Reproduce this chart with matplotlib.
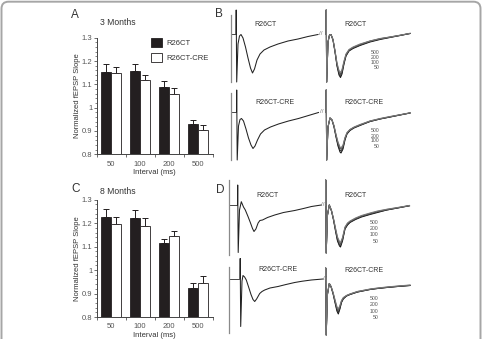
import numpy as np
import matplotlib
matplotlib.use("Agg")
from matplotlib import pyplot as plt
from matplotlib.patches import FancyBboxPatch
from matplotlib.transforms import IdentityTransform
from matplotlib.ticker import MultipleLocator

plt.rcParams['font.family'] = ['Liberation Sans', 'DejaVu Sans']

W, H = 482, 339

# ---- bar data (normalized fEPSP slope, paired-pulse) ----
intervals = ['50', '100', '200', '500']
groups = ['R26CT', 'R26CT-CRE']

ct_3m = [1.153, 1.157, 1.090, 0.930]
ct_3m_err = [0.033, 0.029, 0.023, 0.016]
cre_3m = [1.147, 1.117, 1.057, 0.906]
cre_3m_err = [0.026, 0.022, 0.026, 0.018]

ct_8m = [1.228, 1.222, 1.114, 0.925]
ct_8m_err = [0.031, 0.033, 0.018, 0.019]
cre_8m = [1.195, 1.190, 1.144, 0.947]
cre_8m_err = [0.030, 0.030, 0.021, 0.027]

# ---- example traces (time ms, amplitude mV) ----
# B, first pulse
t_b_left = [0, 0.1, 0.35, 1, 1.75, 2.5, 3.5, 4.75, 6, 7.25, 8.25, 9.25, 10.5, 12, 14, 17, 21, 26, 31, 36, 41]
v_b_ct_first = [0, 0.48, -0.96, -0.2, -0.04, -0.01, -0.08, -0.26, -0.48, -0.68, -0.78, -0.7, -0.52, -0.4, -0.32, -0.26, -0.2, -0.14, -0.1, -0.05, -0.01]
v_b_cre_first = [0, 0.44, -0.96, -0.28, -0.15, -0.13, -0.18, -0.34, -0.52, -0.66, -0.73, -0.68, -0.56, -0.44, -0.36, -0.3, -0.24, -0.18, -0.13, -0.07, -0.01]

# B, second pulse, R26CT (50, 100, 200, 500 ms)
t_b_ct_second = [0, 0.1, 0.35, 1, 1.75, 2.5, 3.5, 4.5, 5.5, 6.5, 7.25, 8, 9, 10, 11.5, 13.5, 17, 22, 27, 32, 37, 42]
v_b_ct_50 = [0, 0.48, -0.96, -0.16, -0.02, -0.01, -0.12, -0.36, -0.64, -0.82, -0.87, -0.8, -0.6, -0.44, -0.34, -0.29, -0.23, -0.16, -0.11, -0.07, -0.03, 0.01]
v_b_ct_100 = [0, 0.48, -0.96, -0.16, -0.02, -0.01, -0.12, -0.35, -0.62, -0.79, -0.83, -0.77, -0.58, -0.43, -0.33, -0.28, -0.22, -0.15, -0.1, -0.065, -0.03, 0.01]
v_b_ct_200 = [0, 0.48, -0.96, -0.16, -0.02, -0.01, -0.11, -0.34, -0.6, -0.76, -0.8, -0.74, -0.56, -0.41, -0.32, -0.27, -0.21, -0.14, -0.095, -0.06, -0.025, 0.01]
v_b_ct_500 = [0, 0.48, -0.96, -0.16, -0.02, -0.01, -0.11, -0.33, -0.58, -0.73, -0.77, -0.71, -0.54, -0.4, -0.31, -0.26, -0.2, -0.14, -0.09, -0.06, -0.025, 0.015]

# B, second pulse, R26CT-CRE
t_b_cre_second = [0, 0.1, 0.35, 1, 2, 3, 4, 5, 6, 7, 7.5, 8.5, 9.5, 10.5, 12, 14, 17, 22, 27, 32, 37, 42]
v_b_cre_50 = [0, 0.44, -0.96, -0.3, -0.12, -0.16, -0.3, -0.5, -0.68, -0.8, -0.82, -0.74, -0.56, -0.44, -0.37, -0.32, -0.27, -0.19, -0.14, -0.1, -0.06, -0.02]
v_b_cre_100 = [0, 0.44, -0.96, -0.3, -0.12, -0.16, -0.29, -0.48, -0.65, -0.76, -0.78, -0.71, -0.54, -0.43, -0.36, -0.31, -0.26, -0.19, -0.14, -0.1, -0.06, -0.02]
v_b_cre_200 = [0, 0.44, -0.96, -0.3, -0.12, -0.16, -0.28, -0.46, -0.62, -0.72, -0.74, -0.68, -0.52, -0.42, -0.35, -0.31, -0.26, -0.18, -0.135, -0.095, -0.055, -0.02]
v_b_cre_500 = [0, 0.44, -0.96, -0.3, -0.12, -0.16, -0.27, -0.45, -0.6, -0.7, -0.72, -0.66, -0.51, -0.41, -0.35, -0.3, -0.25, -0.18, -0.13, -0.09, -0.055, -0.015]

# D, first pulse
t_d_ct_first = [0, 0.1, 0.35, 1, 1.9, 3, 3.9, 5.25, 6.5, 7.5, 8.25, 9.2, 10.3, 11.2, 12.5, 15, 18.6, 23, 28.6, 33, 37, 41.9]
v_d_ct_first = [0, 0.4, -0.95, -0.1, 0.066, -0.04, -0.1, -0.23, -0.36, -0.47, -0.53, -0.48, -0.36, -0.31, -0.3, -0.25, -0.2, -0.15, -0.11, -0.07, -0.03, 0]
t_d_cre_first = [0, 0.1, 0.35, 1, 1.5, 2.3, 3.15, 4.3, 5.5, 6.5, 7.35, 8.3, 9.85, 11, 12.35, 15, 19, 23, 27.35, 31, 35.65, 41.5]
v_d_cre_first = [0, 0.4, -0.96, -0.05, 0.06, 0.03, -0.03, -0.17, -0.32, -0.42, -0.46, -0.41, -0.3, -0.26, -0.23, -0.19, -0.16, -0.12, -0.08, -0.055, -0.03, -0.01]

# D, second pulse, R26CT
t_d_ct_second = [0, 0.1, 0.35, 1, 1.9, 3, 4, 5, 6, 7, 7.5, 8.5, 9.75, 11, 12.25, 15, 18, 22.25, 26, 30.6, 36, 42]
v_d_ct_50 = [0, 0.5, -0.96, -0.2, 0, -0.12, -0.3, -0.52, -0.72, -0.82, -0.84, -0.72, -0.48, -0.4, -0.35, -0.29, -0.24, -0.19, -0.15, -0.1, -0.06, -0.015]
v_d_ct_100 = [0, 0.5, -0.96, -0.2, 0, -0.12, -0.29, -0.5, -0.7, -0.8, -0.81, -0.7, -0.47, -0.39, -0.34, -0.28, -0.23, -0.18, -0.14, -0.1, -0.06, -0.015]
v_d_ct_200 = [0, 0.5, -0.96, -0.2, 0, -0.11, -0.28, -0.48, -0.66, -0.76, -0.78, -0.67, -0.45, -0.37, -0.33, -0.27, -0.22, -0.17, -0.13, -0.09, -0.055, -0.01]
v_d_ct_500 = [0, 0.5, -0.96, -0.2, 0, -0.11, -0.27, -0.46, -0.64, -0.73, -0.75, -0.65, -0.44, -0.36, -0.32, -0.26, -0.21, -0.16, -0.12, -0.085, -0.05, -0.01]

# D, second pulse, R26CT-CRE
t_d_cre_second = [0, 0.1, 0.35, 1, 1.9, 2.8, 3.8, 4.8, 5.7, 6.4, 7.2, 8, 8.9, 10.5, 12.25, 16, 22.25, 26, 30.6, 36, 42.25]
v_d_cre_50 = [0, 0.22, -1.12, -0.3, -0.09, -0.16, -0.3, -0.48, -0.64, -0.7, -0.6, -0.47, -0.4, -0.34, -0.31, -0.26, -0.21, -0.19, -0.17, -0.15, -0.13]
v_d_cre_100 = [0, 0.22, -1.12, -0.3, -0.09, -0.16, -0.29, -0.46, -0.61, -0.67, -0.58, -0.46, -0.39, -0.34, -0.31, -0.26, -0.21, -0.19, -0.17, -0.15, -0.13]
v_d_cre_200 = [0, 0.22, -1.12, -0.3, -0.09, -0.15, -0.28, -0.44, -0.58, -0.63, -0.55, -0.44, -0.38, -0.33, -0.3, -0.25, -0.205, -0.185, -0.165, -0.145, -0.125]
v_d_cre_500 = [0, 0.22, -1.12, -0.3, -0.09, -0.15, -0.27, -0.42, -0.55, -0.6, -0.53, -0.43, -0.37, -0.33, -0.3, -0.25, -0.2, -0.18, -0.16, -0.14, -0.12]

DARK = '#231f20'
TXT = '#333333'
TICK = '#555555'

fig = plt.figure(figsize=(W / 100, H / 100), dpi=100)


def box(x0, y0, x1, y1):
    # axes placed by pixel box (top-left origin)
    return fig.add_axes([x0 / W, 1 - y1 / H, (x1 - x0) / W, (y1 - y0) / H])


def bar_panel(top, bottom, ct, ct_err, cre, cre_err, legend=False):
    ax = box(96.5, top, 212.5, bottom)
    x = np.arange(len(intervals))
    w = 0.345
    b1 = ax.bar(x - w / 2, ct, w, color=DARK, edgecolor=DARK, lw=0.6, label=groups[0], zorder=2)
    b2 = ax.bar(x + w / 2, cre, w, color='white', edgecolor=DARK, lw=0.6, label=groups[1], zorder=2)
    ax.errorbar(x - w / 2, ct, yerr=[np.zeros(4), ct_err], fmt='none', ecolor=DARK,
                elinewidth=0.7, capsize=2.2, capthick=0.7, zorder=1)
    ax.errorbar(x + w / 2, cre, yerr=[np.zeros(4), cre_err], fmt='none', ecolor=DARK,
                elinewidth=0.7, capsize=2.2, capthick=0.7, zorder=1)
    ax.set(xlim=(-0.5, 3.5), ylim=(0.8, 1.3))
    for s in ['top', 'right']:
        ax.spines[s].set_visible(False)
    for s in ['left', 'bottom']:
        ax.spines[s].set_color('#444444')
        ax.spines[s].set_linewidth(0.7)
    ax.set_yticks([0.8, 0.9, 1.0, 1.1, 1.2, 1.3])
    ax.set_yticklabels(['0.8', '0.9', '1', '1.1', '1.2', '1.3'])
    ax.yaxis.set_minor_locator(MultipleLocator(0.02))
    ax.set_xticks(x)
    ax.set_xticklabels(intervals)
    ax.set_xticks(np.arange(-0.5, 4, 1), minor=True)
    ax.tick_params(axis='y', which='major', length=2.2, width=0.6, pad=0.8,
                   labelsize=5.5, colors=TICK)
    ax.tick_params(axis='y', which='minor', length=1.1, width=0.5, colors=TICK)
    ax.tick_params(axis='x', which='major', length=0, pad=4.5, labelsize=5.5, colors=TICK)
    ax.tick_params(axis='x', which='minor', length=2.5, width=0.6, colors=TICK)
    ax.set_ylabel('Normalized fEPSP Slope', fontsize=5.5, color=TXT)
    ax.yaxis.set_label_coords(-0.135, 0.5)
    ax.set_xlabel('Interval (ms)', fontsize=5.5, color=TXT)
    ax.xaxis.set_label_coords(0.5, -0.13)
    if legend:
        ax.legend(handles=[b1, b2], loc='upper left', bbox_to_anchor=(0.467, 1.0),
                  frameon=False, fontsize=5.5, handlelength=1.45, handleheight=1.45,
                  handletextpad=0.55, labelspacing=0.75, borderpad=0, borderaxespad=0,
                  labelcolor=TXT)
    return ax


bar_panel(37.7, 154.3, ct_3m, ct_3m_err, cre_3m, cre_3m_err, legend=True)
bar_panel(199.7, 317.0, ct_8m, ct_8m_err, cre_8m, cre_8m_err)

fig.text(100 / W, 1 - 22.7 / H, '3 Months', fontsize=6.2, color=TXT, ha='left', va='center')
fig.text(100 / W, 1 - 192 / H, '8 Months', fontsize=6.2, color=TXT, ha='left', va='center')
for lab, px, py in [('A', 75, 15), ('B', 219, 14), ('C', 76, 189), ('D', 220, 190)]:
    fig.text(px / W, 1 - py / H, lab, fontsize=8.5, color=TXT, ha='center', va='center')


# ---- trace panels ----
def trace_axes(xa, yb):
    ax = box(xa - 14, yb - 30, xa + 88, yb + 58)
    ax.set(xlim=(-7, 44), ylim=(-1.16, 0.6))
    ax.axis('off')
    ax.patch.set_alpha(0)
    return ax


def first_pulse(xa, yb, t, v, name, bar_t, bar_v):
    ax = trace_axes(xa, yb)
    ax.plot(t, v, color='#222222', lw=0.75)
    # scale bar and baseline tick
    ax.plot([bar_t, bar_t], bar_v, color='#8a8a8a', lw=0.9)
    ax.plot([bar_t + 0.6, -0.4], [0, 0], color='#2a2a2a', lw=0.6)
    ax.text(42.6, 0.01, '//', fontsize=4.5, color='#777777', ha='center', va='center')
    ax.text(9.3, 0.18, name, fontsize=5, color=TXT, ha='left', va='center')


def second_pulse(xa, yb, t, traces, name, lab_v):
    ax = trace_axes(xa, yb)
    shades = ['#111111', '#333333', '#555555', '#777777']
    for v, c in zip(traces, shades):
        ax.plot(t, v, color=c, lw=0.75)
    ax.text(9.3, 0.18, name, fontsize=5, color=TXT, ha='left', va='center')
    for lab, lv in zip(intervals[::-1], lab_v):
        ax.text(26.6, lv, lab, fontsize=3.7, color='#555555', ha='right', va='center')


first_pulse(236, 34, t_b_left, v_b_ct_first, 'R26CT', -2.6, [0.38, -0.96])
second_pulse(326, 34, t_b_ct_second, [v_b_ct_50, v_b_ct_100, v_b_ct_200, v_b_ct_500],
             'R26CT', [-0.37, -0.47, -0.57, -0.67])
first_pulse(236.5, 112, t_b_left, v_b_cre_first, 'R26CT-CRE', -2.9, [0.38, -0.96])
second_pulse(326, 112, t_b_cre_second, [v_b_cre_50, v_b_cre_100, v_b_cre_200, v_b_cre_500],
             'R26CT-CRE', [-0.38, -0.48, -0.58, -0.68])

first_pulse(237.5, 205, t_d_ct_first, v_d_ct_first, 'R26CT', -4.4, [0.5, -1.0])
second_pulse(325.5, 205, t_d_ct_second, [v_d_ct_50, v_d_ct_100, v_d_ct_200, v_d_ct_500],
             'R26CT', [-0.35, -0.47, -0.6, -0.73])
first_pulse(240, 278.5, t_d_cre_first, v_d_cre_first, 'R26CT-CRE', -5.5, [0.24, -1.09])
second_pulse(325.5, 279, t_d_cre_second, [v_d_cre_50, v_d_cre_100, v_d_cre_200, v_d_cre_500],
             'R26CT-CRE', [-0.4, -0.52, -0.65, -0.77])

# rounded outer frame, cut at the bottom edge
fig.add_artist(FancyBboxPatch((1.5, -20), 479, 357.3, boxstyle='round,pad=0,rounding_size=7',
                              transform=IdentityTransform(), fc='none', ec='#a6a6a6', lw=1.4))

fig.savefig('out.png', dpi=100)
